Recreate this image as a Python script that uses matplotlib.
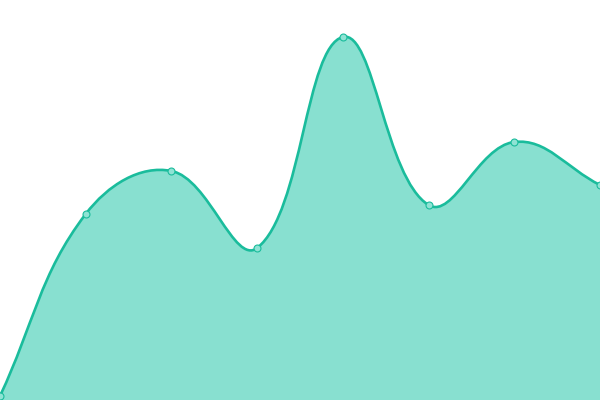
import numpy as np
import matplotlib
matplotlib.use("Agg")
import matplotlib.pyplot as plt
from matplotlib.path import Path
from matplotlib.patches import PathPatch

# values (0..400 scale, bottom = 0)
x_vals = [0, 1, 2, 3, 4, 5, 6, 7]
y_vals = [4, 186, 229, 152, 363, 195, 258, 215]

LINE = "#1abc9c"
FILL = "#88e0d0"
TENSION = 0.4

fig = plt.figure(figsize=(6, 4), dpi=100)
ax = fig.add_axes([0, 0, 1, 1])
ax.set_xlim(0, 7)
ax.set_ylim(0, 400)
ax.axis("off")


def spline_path(xs, ys, t=TENSION):
    # chart.js style cardinal spline, worked out in pixel space
    pts = ax.transData.transform(np.column_stack([xs, ys]))
    n = len(pts)
    cp_prev, cp_next = [], []
    for i in range(n):
        p0 = pts[max(i - 1, 0)]
        p1 = pts[i]
        p2 = pts[min(i + 1, n - 1)]
        d01 = np.hypot(*(p1 - p0))
        d12 = np.hypot(*(p2 - p1))
        tot = d01 + d12
        s01 = d01 / tot if tot else 0
        s12 = d12 / tot if tot else 0
        cp_prev.append(p1 - t * s01 * (p2 - p0))
        cp_next.append(p1 + t * s12 * (p2 - p0))
    verts = [pts[0]]
    codes = [Path.MOVETO]
    for i in range(1, n):
        verts += [cp_next[i - 1], cp_prev[i], pts[i]]
        codes += [Path.CURVE4] * 3
    inv = ax.transData.inverted()
    return inv.transform(np.array(verts)), codes


verts, codes = spline_path(x_vals, y_vals)

# area under the curve
fill_verts = np.vstack([verts, [[x_vals[-1], 0], [x_vals[0], 0], verts[0]]])
fill_codes = codes + [Path.LINETO, Path.LINETO, Path.CLOSEPOLY]
ax.add_patch(PathPatch(Path(fill_verts, fill_codes), facecolor=FILL,
                       edgecolor="none", zorder=1))

# the line itself
ax.add_patch(PathPatch(Path(verts, codes), facecolor="none", edgecolor=LINE,
                       linewidth=1.9, capstyle="round", joinstyle="round",
                       zorder=2))

ax.plot(x_vals, y_vals, linestyle="none", marker="o", markersize=5,
        markerfacecolor="#8fe3d4", markeredgecolor=LINE,
        markeredgewidth=0.8, zorder=3)

plt.savefig("out.png", dpi=100)
